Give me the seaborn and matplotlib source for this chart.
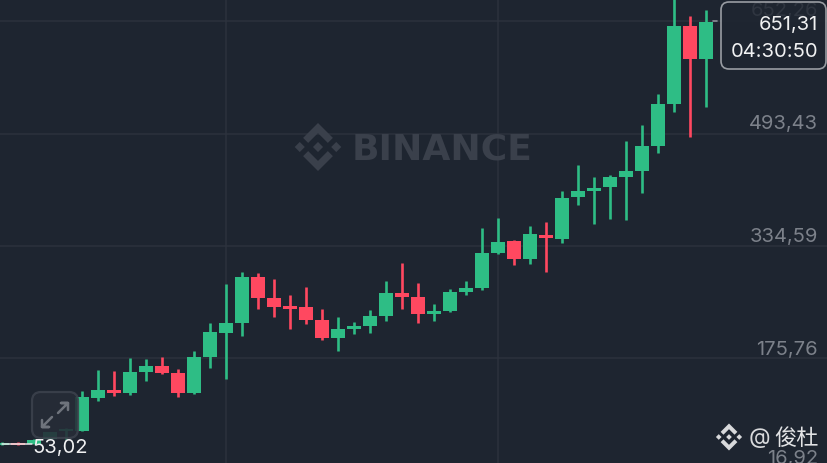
import matplotlib
matplotlib.use('Agg')
import matplotlib.pyplot as plt
from matplotlib.patches import FancyBboxPatch, Polygon
import pandas as pd
import seaborn as sns

BG = '#1e2530'
GREEN = '#2ebd85'
RED = '#ff4860'
GRID = '#2c323d'
AXIS_TXT = '#7c818a'

# candles, one value per candle, left to right
opens = [53.6, 55.6, 55.0, 61.7, 73.0, 73.4, 120.1, 131.0, 126.7, 156.4, 164.9, 155.4, 126.7, 177.6, 211.9,
         225.7, 290.7, 261.0, 249.7, 248.3, 229.9, 204.5, 217.2, 221.4, 235.6, 268.1, 262.4, 238.4, 242.6,
         269.5, 275.2, 324.2, 341.6, 316.2, 350.5, 344.9, 403.8, 412.3, 417.6, 432.1, 440.6, 476.0, 535.3,
         645.6, 599.0]
highs = [57.4, 56.7, 61.7, 71.6, 77.2, 129.5, 159.2, 157.8, 176.2, 174.8, 177.6, 160.6, 186.1, 225.7, 280.8,
         297.8, 296.4, 287.9, 265.3, 276.6, 245.5, 234.2, 227.1, 244.1, 285.1, 310.5, 282.2, 252.5, 273.8,
         285.1, 360.0, 374.6, 343.0, 362.8, 368.5, 412.3, 449.1, 432.1, 434.9, 483.0, 505.7, 549.5, 689.0,
         659.8, 668.3]
lows = [53.02, 53.2, 54.2, 61.0, 61.7, 73.0, 115.4, 122.9, 123.9, 143.7, 153.6, 121.0, 125.7, 162.5, 146.5,
        207.3, 245.5, 234.2, 217.2, 224.3, 201.6, 186.1, 210.1, 211.5, 228.5, 245.5, 225.7, 228.5, 241.2,
        265.3, 272.3, 323.9, 307.7, 309.1, 297.8, 338.8, 392.5, 365.7, 372.7, 371.3, 409.5, 466.1, 524.0,
        488.7, 531.1]
closes = [56.0, 53.2, 60.7, 70.9, 75.1, 120.6, 131.0, 127.1, 156.4, 164.9, 155.4, 127.1, 177.2, 213.0, 225.2,
          290.7, 261.0, 248.3, 245.5, 229.9, 204.5, 217.2, 221.4, 235.6, 268.1, 262.4, 238.4, 242.6, 269.5,
          275.2, 324.7, 340.6, 316.2, 351.5, 345.9, 402.8, 412.3, 416.6, 432.1, 440.6, 476.0, 535.3, 645.6,
          599.0, 651.31]

price_ticks = [652.26, 493.43, 334.59, 175.76, 16.92]
price_labels = ['652,26', '493,43', '334,59', '175,76', '16,92']
time_grid = [14, 31]
last_price = '651,31'
countdown = '04:30:50'
low_label = '53,02'

df = pd.DataFrame({'i': range(len(opens)), 'o': opens, 'h': highs, 'l': lows, 'c': closes})
df['up'] = df['c'] >= df['o']
df['bottom'] = df[['o', 'c']].min(axis=1)
df['size'] = (df['o'] - df['c']).abs()
wicks = pd.concat([df[['i', 'up']].assign(p=df['l']), df[['i', 'up']].assign(p=df['h'])])

sns.set_theme(style='dark', rc={'axes.facecolor': BG, 'figure.facecolor': BG})
plt.rcParams['font.family'] = ['Inter', 'Noto Sans CJK SC', 'DejaVu Sans']

fig = plt.figure(figsize=(8.28, 4.64), dpi=100)
ax = fig.add_axes([0, 0, 1, 1])
palette = {True: GREEN, False: RED}

sns.lineplot(data=wicks, x='i', y='p', hue='up', units='i', estimator=None, palette=palette,
             linewidth=1.9, legend=False, ax=ax, zorder=3, solid_capstyle='butt')
for up, part in df.groupby('up'):
    sns.barplot(data=part, x='i', y='size', bottom=part['bottom'].values, native_scale=True,
                color=palette[up], width=0.875, saturation=1, linewidth=0, ax=ax, zorder=4)

ax.set_xticks(time_grid)
ax.set_yticks(price_ticks)
ax.set_xticklabels([])
ax.set_yticklabels([])
# limits after the ticks, set_yticks widens the view otherwise
ax.set_xlim(-0.125, 51.625)
ax.set_ylim(27.7, 683.8)
ax.set_xlabel('')
ax.set_ylabel('')
ax.grid(True, color=GRID, linewidth=1.1)
ax.set_axisbelow(True)
ax.tick_params(length=0)
sns.despine(ax=ax, left=True, bottom=True)

# everything below is decoration, placed in screen pixels
ov = fig.add_axes([0, 0, 1, 1])
ov.set_xlim(0, 828)
ov.set_ylim(464, 0)
ov.axis('off')
ov.patch.set_alpha(0)


def logo(cx, cy, s, color, alpha=1.0, z=1):
    # four small squares and two chevrons of the exchange mark
    def diamond(x, y, r):
        ov.add_patch(Polygon([(x, y - r), (x + r, y), (x, y + r), (x - r, y)], fc=color, ec='none', alpha=alpha, zorder=z))
    diamond(cx, cy, 0.21 * s)
    diamond(cx - 0.76 * s, cy, 0.21 * s)
    diamond(cx + 0.76 * s, cy, 0.21 * s)
    t = 0.21 * s * 1.35
    for sign in (-1, 1):
        pts = [(cx, cy + sign * s), (cx + 0.62 * s, cy + sign * 0.38 * s), (cx + 0.62 * s - t / 1.35, cy + sign * (0.38 * s - t / 1.35)),
               (cx, cy + sign * (s - 0.42 * s)), (cx - 0.62 * s + t / 1.35, cy + sign * (0.38 * s - t / 1.35)), (cx - 0.62 * s, cy + sign * 0.38 * s)]
        ov.add_patch(Polygon(pts, fc=color, ec='none', alpha=alpha, zorder=z))


logo(318, 148, 24, '#3a404b')
ov.text(352, 150, 'BINANCE', color='#3a404b', fontsize=26, fontweight='bold', family='DejaVu Sans', va='center', ha='left', zorder=1)

for lab, y in zip(price_labels, [11, 124, 237, 350, 459]):
    ov.text(818, y, lab, color=AXIS_TXT, fontsize=14.5, ha='right', va='center', zorder=5)

# last price marker and box
ov.plot([713, 717], [21.5, 21.5], color='#8a8f97', lw=1.2, zorder=5)
ov.add_patch(FancyBboxPatch((721, 3), 105, 67, boxstyle='round,pad=0,rounding_size=8', fc=BG, ec='#b4b7bc', lw=1.2, alpha=0.82, zorder=6))
ov.text(818, 25, last_price, color='#f0f1f2', fontsize=14.5, ha='right', va='center', zorder=7)
ov.text(818, 52, countdown, color='#f0f1f2', fontsize=14.5, ha='right', va='center', zorder=7)

# lowest price marker
ov.plot([2, 32], [445.3, 445.3], color='#e8e9ea', lw=1.1, zorder=5)
ov.text(32, 448, low_label, color='#f0f1f2', fontsize=14.5, ha='left', va='center', zorder=7)

# expand button
ov.add_patch(FancyBboxPatch((32, 393), 46, 46, boxstyle='round,pad=0,rounding_size=9', fc='#262c37', ec='#3c424d', lw=1.6, alpha=0.88, zorder=6))
ov.plot([58, 68, 61, 68, 68], [414, 404, 404, 404, 411], color='#6e737c', lw=1.8, zorder=7)
ov.plot([52, 42, 49, 42, 42], [418, 428, 428, 428, 421], color='#6e737c', lw=1.8, zorder=7)

# author tag
logo(729, 438, 13.5, '#d8d9db', z=8)
ov.text(749, 438, '@', color='#d8d9db', fontsize=16, ha='left', va='center', zorder=8)
ov.text(774, 439, '俊杜', color='#e2e3e5', fontsize=16, ha='left', va='center', zorder=8)

fig.savefig('out.png', dpi=100, facecolor=BG)
